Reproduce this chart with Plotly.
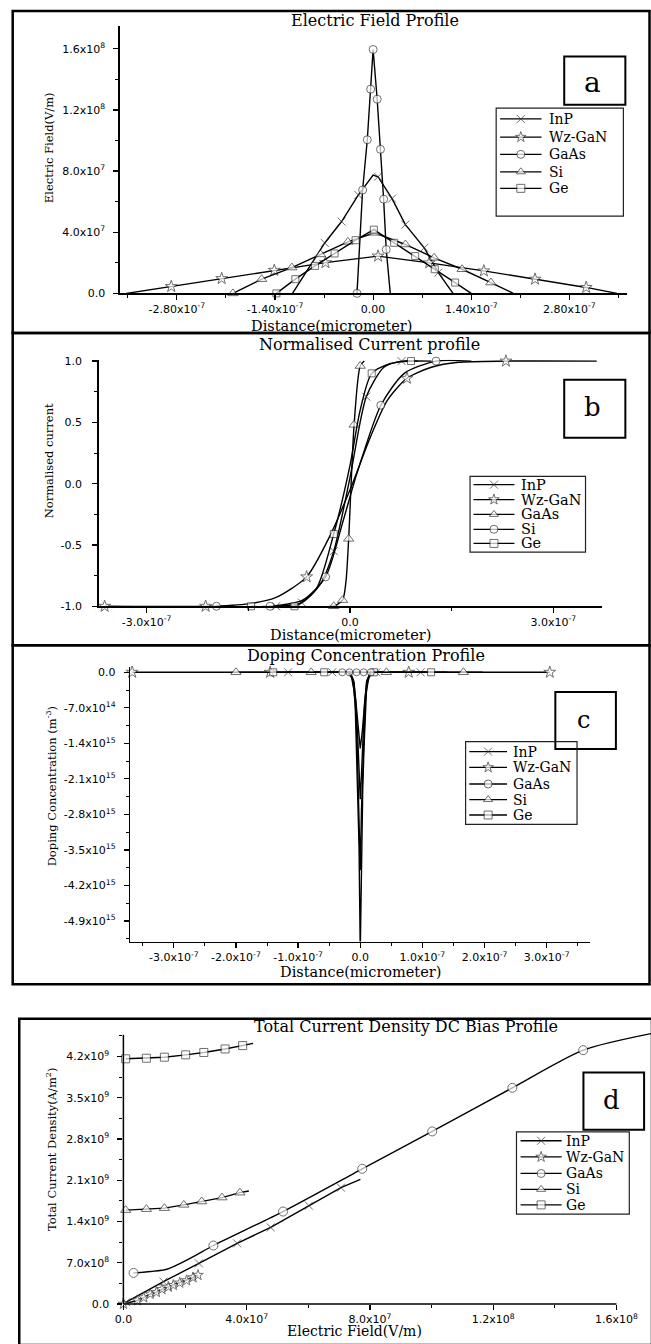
import plotly.graph_objects as go

W, H = 651, 1344
NAMES = ["InP", "Wz-GaN", "GaAs", "Si", "Ge"]

# ---------------- Panel a: Electric Field Profile (x in 1e-7, y in 1e7 V/m)
a_inp_x = [-1.15, -0.69, -0.45, -0.21, 0.0, 0.07, 0.27, 0.46, 0.73, 0.93, 1.14]
a_inp_y = [0.0, 3.3, 4.7, 6.44, 7.74, 7.63, 6.2, 4.5, 2.98, 1.36, 0.0]
a_wz_x = [-3.52, -2.88, -2.16, -1.41, -0.68, 0.07, 0.8, 1.58, 2.31, 3.04, 3.48]
a_wz_y = [0.0, 0.45, 0.97, 1.51, 2.01, 2.44, 2.0, 1.47, 0.93, 0.39, 0.0]
a_gaas_x = [-0.23, -0.15, -0.083, -0.035, 0.0, 0.058, 0.105, 0.15, 0.187, 0.245]
a_gaas_y = [0.0, 6.76, 10.05, 13.36, 15.95, 12.7, 9.42, 6.16, 2.87, 0.0]
a_si_x = [-2.0, -1.59, -1.16, -0.75, -0.36, 0.02, 0.46, 0.87, 1.27, 1.68, 2.0]
a_si_y = [0.0, 0.93, 1.69, 2.55, 3.37, 3.96, 3.2, 2.33, 1.58, 0.71, 0.0]
a_ge_x = [-1.38, -1.11, -0.83, -0.55, -0.25, 0.01, 0.30, 0.60, 0.88, 1.17, 1.40]
a_ge_y = [0.0, 0.93, 1.8, 2.61, 3.48, 4.17, 3.31, 2.44, 1.58, 0.71, 0.0]

# ---------------- Panel b: Normalised Current profile (x in 1e-7)
b_inp_x = [-1.09, -0.71, -0.45, -0.24, 0.0, 0.24, 0.5, 0.76, 1.0]
b_inp_y = [-1.0, -0.97, -0.83, -0.55, 0.05, 0.71, 0.95, 1.0, 1.0]
b_wz_x = [-3.62, -2.13, -1.5, -1.1, -0.64, -0.3, 0.0, 0.3, 0.55, 0.84, 1.2, 1.6, 2.3, 3.64]
b_wz_y = [-1.0, -1.0, -0.98, -0.93, -0.76, -0.43, -0.05, 0.38, 0.68, 0.86, 0.95, 0.99, 1.0, 1.0]
b_gaas_x = [-0.3, -0.24, -0.11, -0.06, -0.02, 0.06, 0.15, 0.21]
b_gaas_y = [-1.0, -1.0, -0.95, -0.8, -0.45, 0.48, 0.96, 1.0]
b_si_x = [-1.97, -1.18, -0.7, -0.36, -0.1, 0.1, 0.455, 0.8, 1.27, 1.79]
b_si_y = [-1.0, -1.0, -0.95, -0.76, -0.3, 0.08, 0.64, 0.9, 1.0, 1.0]
b_ge_x = [-1.46, -0.82, -0.5, -0.24, 0.0, 0.15, 0.32, 0.6, 0.9, 1.2]
b_ge_y = [-1.0, -1.0, -0.86, -0.41, 0.15, 0.6, 0.9, 0.98, 1.0, 1.0]

# ---------------- Panel c: Doping Concentration Profile (x in 1e-7, y in 1e15 m^-3)
c_inp_x = [-1.16, -0.45, -0.18, -0.12, -0.08, -0.05, -0.02, 0.0, 0.02, 0.05, 0.08, 0.12, 0.18, 0.26, 0.97, 1.16]
c_inp_y = [0.0, 0.0, 0.0, -0.15, -0.6, -1.4, -2.7, -3.9, -2.7, -1.4, -0.6, -0.15, 0.0, 0.0, 0.0, 0.0]
c_wz_x = [-3.67, -1.45, -0.2, -0.14, -0.1, -0.08, -0.06, -0.04, -0.02, 0.0, 0.02, 0.04, 0.06, 0.08, 0.1, 0.14, 0.2, 0.78, 3.05]
c_wz_y = [0.0, 0.0, 0.0, -0.1, -0.35, -0.7, -1.5, -2.3, -3.4, -5.5, -3.4, -2.3, -1.5, -0.7, -0.35, -0.1, 0.0, 0.0, 0.0]
c_gaas_x = [-0.29, -0.175, -0.06, 0.055, 0.17, 0.29]
c_gaas_y = [0.0, 0.0, 0.0, 0.0, 0.0, 0.0]
c_si_x = [-2.0, -0.79, -0.16, -0.1, -0.06, -0.03, 0.0, 0.03, 0.06, 0.1, 0.16, 0.42, 1.66, 1.97]
c_si_y = [0.0, 0.0, 0.0, -0.2, -0.7, -1.2, -1.5, -1.2, -0.7, -0.2, 0.0, 0.0, 0.0, 0.0]
c_ge_x = [-1.4, -0.58, -0.17, -0.11, -0.07, -0.04, -0.02, 0.0, 0.02, 0.04, 0.07, 0.11, 0.17, 0.22, 1.14, 1.4]
c_ge_y = [0.0, 0.0, 0.0, -0.15, -0.6, -1.3, -2.0, -2.5, -2.0, -1.3, -0.6, -0.15, 0.0, 0.0, 0.0, 0.0]

# ---------------- Panel d: Total Current Density DC Bias (x in 1e7 V/m, y in 1e9 A/m^2)
d_inp_x = [0.09, 1.3, 2.45, 3.69, 4.78, 6.02, 7.06, 7.69]
d_inp_y = [0.03, 0.38, 0.69, 1.03, 1.30, 1.67, 1.975, 2.115]
d_wz_x = [0.0, 0.45, 0.66, 0.87, 1.07, 1.25, 1.46, 1.62, 1.83, 2.05, 2.26, 2.42]
d_wz_y = [0.0, 0.06, 0.11, 0.17, 0.2, 0.25, 0.29, 0.32, 0.36, 0.40, 0.45, 0.49]
d_gaas_x = [0.33, 1.41, 2.15, 2.92, 5.18, 7.75, 10.02, 12.62, 14.92, 17.12]
d_gaas_y = [0.528, 0.59, 0.77, 0.993, 1.57, 2.295, 2.93, 3.67, 4.31, 4.59]
d_si_x = [0.074, 0.746, 1.33, 1.96, 2.54, 3.2, 3.78, 4.07]
d_si_y = [1.594, 1.61, 1.627, 1.683, 1.74, 1.807, 1.89, 1.918]
d_ge_x = [0.074, 0.746, 1.33, 2.02, 2.61, 3.30, 3.87, 4.21]
d_ge_y = [4.163, 4.173, 4.19, 4.23, 4.27, 4.33, 4.387, 4.425]

# ---------------- tick labels
a_xticks = [-2.8e-7, -1.4e-7, 0.0, 1.4e-7, 2.8e-7]
a_xtext = ["-2.80x10<sup>-7</sup>", "-1.40x10<sup>-7</sup>", "0.00", "1.40x10<sup>-7</sup>", "2.80x10<sup>-7</sup>"]
a_yticks = [0.0, 4e7, 8e7, 1.2e8, 1.6e8]
a_ytext = ["0.0", "4.0x10<sup>7</sup>", "8.0x10<sup>7</sup>", "1.2x10<sup>8</sup>", "1.6x10<sup>8</sup>"]
b_xticks = [-3e-7, 0.0, 3e-7]
b_xtext = ["-3.0x10<sup>-7</sup>", "0.0", "3.0x10<sup>-7</sup>"]
b_yticks = [-1.0, -0.5, 0.0, 0.5, 1.0]
b_ytext = ["-1.0", "-0.5", "0.0", "0.5", "1.0"]
c_xticks = [-3e-7, -2e-7, -1e-7, 0.0, 1e-7, 2e-7, 3e-7]
c_xtext = ["-3.0x10<sup>-7</sup>", "-2.0x10<sup>-7</sup>", "-1.0x10<sup>-7</sup>", "0.0",
           "1.0x10<sup>-7</sup>", "2.0x10<sup>-7</sup>", "3.0x10<sup>-7</sup>"]
c_yticks = [0.0, -7e14, -1.4e15, -2.1e15, -2.8e15, -3.5e15, -4.2e15, -4.9e15]
c_ytext = ["0.0", "-7.0x10<sup>14</sup>", "-1.4x10<sup>15</sup>", "-2.1x10<sup>15</sup>", "-2.8x10<sup>15</sup>",
           "-3.5x10<sup>15</sup>", "-4.2x10<sup>15</sup>", "-4.9x10<sup>15</sup>"]
d_xticks = [0.0, 4e7, 8e7, 1.2e8, 1.6e8]
d_xtext = ["0.0", "4.0x10<sup>7</sup>", "8.0x10<sup>7</sup>", "1.2x10<sup>8</sup>", "1.6x10<sup>8</sup>"]
d_yticks = [0.0, 7e8, 1.4e9, 2.1e9, 2.8e9, 3.5e9, 4.2e9]
d_ytext = ["0.0", "7.0x10<sup>8</sup>", "1.4x10<sup>9</sup>", "2.1x10<sup>9</sup>", "2.8x10<sup>9</sup>",
           "3.5x10<sup>9</sup>", "4.2x10<sup>9</sup>"]

# ---------------- helpers
def X(p):
    return p / W


def Y(p):
    return 1 - p / H


SERIF = "DejaVu Serif"
SANS = "DejaVu Sans"

fig = go.Figure()


def add(xa, ya, xs, ys, xscale, yscale, sym, msize, marks=None, shape="linear"):
    n = len(xs)
    idx = set(range(n)) if marks is None else set(marks)
    sizes = [msize if i in idx else 0 for i in range(n)]
    open_sym = sym.startswith("x-thin")
    line = dict(color="black", width=1.4, shape=shape)
    if shape == "spline":
        line["smoothing"] = 0.7
    fig.add_trace(go.Scatter(
        x=[v * xscale for v in xs], y=[v * yscale for v in ys], xaxis=xa, yaxis=ya,
        mode="lines+markers", line=line,
        marker=dict(symbol=sym, size=sizes, color="#333" if open_sym else "white",
                    line=dict(color="#333", width=1)),
        showlegend=False, cliponaxis=False, hoverinfo="skip"))


SYM = {"InP": "x-thin-open", "Wz-GaN": "star", "GaAs": "circle", "Si": "triangle-up", "Ge": "square"}

# panel a
add("x", "y", a_inp_x, a_inp_y, 1e-7, 1e7, SYM["InP"], 8, [1, 2, 3, 5, 6, 7, 8, 9])
add("x", "y", a_wz_x, a_wz_y, 1e-7, 1e7, SYM["Wz-GaN"], 9, list(range(1, 10)))
add("x", "y", a_gaas_x, a_gaas_y, 1e-7, 1e7, SYM["GaAs"], 8, list(range(0, 9)))
add("x", "y", a_si_x, a_si_y, 1e-7, 1e7, SYM["Si"], 9, list(range(0, 10)))
add("x", "y", a_ge_x, a_ge_y, 1e-7, 1e7, SYM["Ge"], 7, list(range(0, 10)))

# panel b (legend there: GaAs = triangle, Si = circle)
add("x2", "y2", b_inp_x, b_inp_y, 1e-7, 1, "x-thin-open", 8, [0, 1, 3, 5, 7], "spline")
add("x2", "y2", b_wz_x, b_wz_y, 1e-7, 1, "star", 9, [0, 1, 4, 9, 12], "spline")
add("x2", "y2", b_gaas_x, b_gaas_y, 1e-7, 1, "triangle-up", 9, [1, 2, 4, 5, 6], "spline")
add("x2", "y2", b_si_x, b_si_y, 1e-7, 1, "circle", 8, [0, 1, 3, 6, 8], "spline")
add("x2", "y2", b_ge_x, b_ge_y, 1e-7, 1, "square", 7, [0, 1, 3, 6, 8], "spline")

# panel c
add("x3", "y3", c_inp_x, c_inp_y, 1e-7, 1e15, SYM["InP"], 8, [0, 1, 13, 14])
add("x3", "y3", c_wz_x, c_wz_y, 1e-7, 1e15, SYM["Wz-GaN"], 9, [0, 1, 17, 18])
add("x3", "y3", c_si_x, c_si_y, 1e-7, 1e15, SYM["Si"], 9, [0, 1, 11, 12])
add("x3", "y3", c_ge_x, c_ge_y, 1e-7, 1e15, SYM["Ge"], 7, [0, 1, 13, 14])
add("x3", "y3", c_gaas_x, c_gaas_y, 1e-7, 1e15, SYM["GaAs"], 7, [0, 1, 2, 3, 4])

# panel d
add("x4", "y4", d_inp_x, d_inp_y, 1e7, 1e9, SYM["InP"], 8, list(range(0, 7)))
add("x4", "y4", d_wz_x, d_wz_y, 1e7, 1e9, SYM["Wz-GaN"], 8)
add("x4", "y4", d_gaas_x, d_gaas_y, 1e7, 1e9, SYM["GaAs"], 9, [0, 3, 4, 5, 6, 7, 8], "spline")
add("x4", "y4", d_si_x, d_si_y, 1e7, 1e9, SYM["Si"], 9, list(range(0, 7)))
add("x4", "y4", d_ge_x, d_ge_y, 1e7, 1e9, SYM["Ge"], 8, list(range(0, 7)))

# ---------------- axes
TICKFONT = dict(family=SANS, size=11, color="black")


def axis(dom, rng, tv, tt, anchor, minor_vals, showline=True, standoff=2):
    return dict(domain=dom, range=rng, tickmode="array", tickvals=tv, ticktext=tt, anchor=anchor,
                showgrid=False, zeroline=False, ticks="outside", ticklen=5, tickwidth=1.2,
                tickcolor="black", showline=showline, linecolor="black", linewidth=1.5,
                tickfont=TICKFONT, fixedrange=True, ticklabelstandoff=standoff,
                minor=dict(tickmode="array", tickvals=minor_vals, ticks="outside", ticklen=3,
                           tickwidth=1, tickcolor="black"))


BOX = {1: (112.5, 627, 20.7, 291), 2: (91, 601, 358, 606.7), 3: (123, 589.6, 668, 945), 4: (116, 651, 1030, 1310.7)}


def xd(k):
    return [X(BOX[k][0]), X(BOX[k][1])]


def yd(k):
    return [Y(BOX[k][3]), Y(BOX[k][2])]


layout = dict(
    width=W, height=H, autosize=False, margin=dict(l=0, r=0, t=0, b=0),
    paper_bgcolor="white", plot_bgcolor="rgba(0,0,0,0)", showlegend=False,
    xaxis=axis(xd(1), [-3.612e-7, 3.627e-7], a_xticks, a_xtext, "y", [-3.5e-7, -2.1e-7, -0.7e-7, 0.7e-7, 2.1e-7, 3.5e-7], standoff=0),
    yaxis=axis(yd(1), [0, 1.752e8], a_yticks, a_ytext, "x", [2e7, 6e7, 1.0e8, 1.4e8], standoff=6),
    xaxis2=axis(xd(2), [-3.707e-7, 3.713e-7], b_xticks, b_xtext, "y2", [-1.5e-7, 1.5e-7], standoff=0),
    yaxis2=axis(yd(2), [-1.0, 1.0105], b_yticks, b_ytext, "x2", [-0.75, -0.25, 0.25, 0.75], standoff=8),
    xaxis3=axis(xd(3), [-3.70e-7, 3.704e-7], c_xticks, c_xtext, "y3", [-3.5e-7, -2.5e-7, -1.5e-7, -0.5e-7, 0.5e-7, 1.5e-7, 2.5e-7, 3.5e-7], standoff=0),
    yaxis3=axis(yd(3), [-5.304e15, 1.03e14], c_yticks, c_ytext, "x3",
                [-3.5e14, -1.05e15, -1.75e15, -2.45e15, -3.15e15, -3.85e15, -4.55e15, -5.25e15], standoff=6),
    xaxis4=axis(xd(4), [0, 1.712e8], d_xticks, d_xtext, "y4", [2e7, 6e7, 1.0e8, 1.4e8], showline=False, standoff=0),
    yaxis4=axis(yd(4), [0, 4.723e9], d_yticks, d_ytext, "x4",
                [3.5e8, 1.05e9, 1.75e9, 2.45e9, 3.15e9, 3.85e9, 4.55e9], showline=False, standoff=6),
    xaxis5=dict(domain=[0, 1], range=[0, W], visible=False, anchor="y5", fixedrange=True),
    yaxis5=dict(domain=[0, 1], range=[H, 0], visible=False, anchor="x5", fixedrange=True),
)
fig.update_layout(**layout)

shapes = []
ann = []


def rect(x0, y0, x1, y1, w=2.5, color="black"):
    shapes.append(dict(type="rect", xref="paper", yref="paper", x0=X(x0), x1=X(x1), y0=Y(y1), y1=Y(y0),
                       line=dict(color=color, width=w), fillcolor="rgba(0,0,0,0)", layer="above"))


def hline(x0, x1, y, w=1.5):
    shapes.append(dict(type="line", xref="paper", yref="paper", x0=X(x0), x1=X(x1), y0=Y(y), y1=Y(y),
                       line=dict(color="black", width=w)))


def vline(x, y0, y1, w=1.5):
    shapes.append(dict(type="line", xref="paper", yref="paper", x0=X(x), x1=X(x), y0=Y(y0), y1=Y(y1),
                       line=dict(color="black", width=w)))


def text(s, x, y, size, family=SERIF, angle=0, xanchor="center"):
    ann.append(dict(text=s, x=X(x), y=Y(y), xref="paper", yref="paper", showarrow=False,
                    xanchor=xanchor, yanchor="middle", textangle=angle,
                    font=dict(family=family, size=size, color="black")))


# panel frames
rect(3.75, 6, 649.5, 331)
rect(3.75, 331, 649.5, 646)
rect(3.75, 646, 649.5, 988)
rect(10.4, 1023, 652, 1352)

# axis lines for panel d (drawn manually so the curve can run past the frame like the original)
vline(116, 1039, 1310.7)
hline(116, 616, 1310.7)

# titles
text("Electric Field Profile", 371, 16, 16)
text("Normalised Current profile", 366, 342.5, 16)
text("Doping Concentration Profile", 362, 656, 16)
text("Total Current Density DC Bias Profile", 403, 1030.5, 16)

# axis titles
text("Distance(micrometer)", 327, 324, 14.5)
text("Distance(micrometer)", 346, 636, 14.5)
text("Distance(micrometer)", 356, 976, 14.5)
text("Electric Field(V/m)", 350, 1337.5, 14)
text("Electric Field(V/m)", 40, 144, 11.5, angle=-90)
text("Normalised current", 40, 460, 11.5, angle=-90)
text("Doping Concentration (m<sup>-3</sup>)", 44, 788, 11.5, angle=-90)
text("Total Current Density(A/m<sup>2</sup>)", 43, 1154, 11.5, angle=-90)

# panel letters
rect(563, 52, 625, 100.7, w=2)
text("a", 592, 78, 28)
rect(563, 378, 625, 436.7, w=2)
text("b", 592, 406, 26)
rect(554, 693.3, 615.4, 750.7, w=2)
text("c", 583, 721, 24)
rect(582.5, 1077, 644, 1135, w=2)
text("d", 611, 1105, 26)

# legends
LEGENDS = [
    dict(box=(494, 104, 623, 213), ys=[115, 133.3, 150.7, 168.3, 185], line=(498, 540), tx=546, size=14,
         syms=["x-thin-open", "star", "circle", "triangle-up", "square"]),
    dict(box=(467.5, 475.7, 584.6, 552), ys=[484, 499, 514, 529, 543.3], line=(471, 512.5), tx=517, size=14.5,
         syms=["x-thin-open", "star", "triangle-up", "circle", "square"]),
    dict(box=(463, 743.3, 576, 826.7), ys=[753.3, 769.3, 786, 801.7, 817.3], line=(466.7, 505), tx=509, size=14,
         syms=["x-thin-open", "star", "circle", "triangle-up", "square"]),
    dict(box=(514.6, 1137, 629, 1220), ys=[1146, 1162.3, 1179, 1195, 1210.7], line=(518.75, 560.4), tx=562.5, size=14,
         syms=["x-thin-open", "star", "circle", "triangle-up", "square"]),
]
for lg in LEGENDS:
    bx = lg["box"]
    rect(bx[0], bx[1], bx[2], bx[3], w=1.2, color="#222")
    x0, x1 = lg["line"]
    for name, yy, sym in zip(NAMES, lg["ys"], lg["syms"]):
        open_sym = sym.startswith("x-thin")
        fig.add_trace(go.Scatter(
            x=[x0, (x0 + x1) / 2, x1], y=[yy, yy, yy], xaxis="x5", yaxis="y5",
            mode="lines+markers", line=dict(color="black", width=1.3),
            marker=dict(symbol=sym, size=[0, 8, 0], color="#333" if open_sym else "white",
                        line=dict(color="#333", width=1)),
            showlegend=False, cliponaxis=False, hoverinfo="skip"))
        text(name, lg["tx"], yy, lg["size"], xanchor="left")

fig.update_layout(shapes=shapes, annotations=ann)
fig.write_html("out.html", config={"displayModeBar": False, "staticPlot": True},
               post_script="document.body.style.margin='0px';document.body.style.overflow='hidden';")
